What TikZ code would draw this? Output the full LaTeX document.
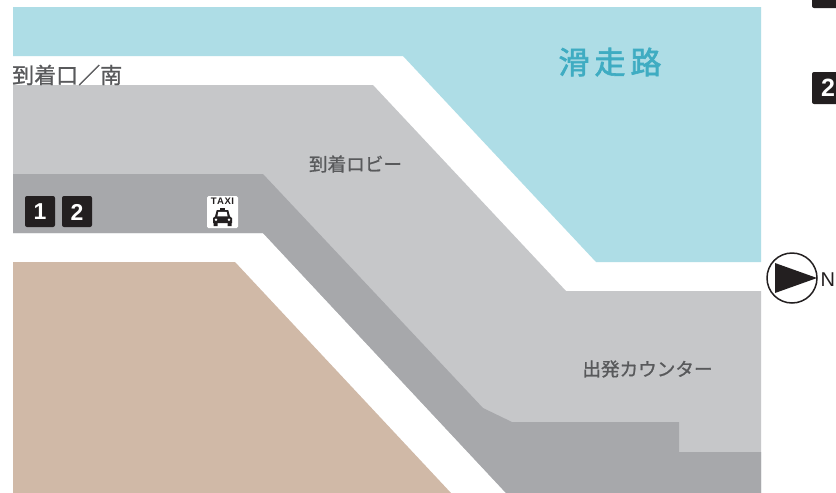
\documentclass[tikz,border=0pt]{standalone}
\usepackage{fontspec}
\setmainfont{Liberation Sans}
\newfontfamily\jp[FakeBold=1]{Noto Sans CJK JP}
\newfontfamily\jpb[FakeBold=2]{Noto Sans CJK JP}
\definecolor{runway}{HTML}{AEDDE6}
\definecolor{lobby}{HTML}{C6C7C9}
\definecolor{curb}{HTML}{A7A8AB}
\definecolor{land}{HTML}{D0B9A7}
\definecolor{tile}{HTML}{231F20}
\definecolor{runtext}{HTML}{3FACC2}
\definecolor{labeltext}{HTML}{58595B}
\tikzset{
  lbl/.style={inner sep=0pt,text=labeltext,font=\jp\fontsize{18.6}{18.6}\selectfont},
  numtile/.style={fill=tile,rounded corners=2pt},
  numtext/.style={inner sep=0pt,text=white,font=\bfseries\fontsize{23}{23}\selectfont}
}
\begin{document}
\begin{tikzpicture}[x=1pt,y=-1pt]
\useasboundingbox (0,0) rectangle (836,493);
\fill[white] (0,0) rectangle (836,493);
\fill[runway] (13,7) -- (761,7) -- (761,262) -- (596,262) -- (403,56) -- (13,56) -- cycle;
\fill[lobby] (13,85) -- (373,85) -- (566,291) -- (761,291) -- (761,493) -- (506,493) -- (263,233) -- (13,233) -- cycle;
\fill[curb] (13,174) -- (263,174) -- (483,408) -- (512,422) -- (679,422) -- (679,452) -- (761,452) -- (761,493) -- (506,493) -- (263,233) -- (13,233) -- cycle;
\fill[land] (13,262) -- (235,262) -- (451,493) -- (13,493) -- cycle;
\node[inner sep=0pt,text=runtext,font=\jpb\fontsize{31}{31}\selectfont] (runway) at (610,62) {滑\kern5pt 走\kern5pt 路};
\node[inner sep=0pt,anchor=west,text=labeltext,font=\jp\fontsize{22}{22}\selectfont] (arr) at (12,75) {到着口／南};
\node[lbl] (lobbylabel) at (355.5,164) {到着ロビー};
\node[lbl] (counter) at (647.5,369) {出発カウンター};
% number tiles
\fill[numtile] (25,196) rectangle (55,227);
\node[numtext] (one) at (40,212) {1};
\fill[numtile] (62,196) rectangle (92,227);
\node[numtext] (two) at (77,212) {2};
\fill[numtile] (812,-24) rectangle (845,8);
\fill[numtile] (812,72) rectangle (845,104);
\node[numtext,anchor=west,font=\bfseries\fontsize{25}{25}\selectfont] (twob) at (821,88) {2};
% taxi
\fill[white,rounded corners=1.5pt] (207,196) rectangle (238,228);
\node[inner sep=0pt,font=\bfseries\fontsize{9.5}{9.5}\selectfont,text=tile] (taxi) at (222.5,201.5) {T\kern.5pt A\kern.5pt X\kern.5pt I};
\fill[tile] (220,207.5) rectangle (225,210);
\fill[tile] (215,216.5) -- (216.8,210) -- (228.2,210) -- (230,216.5) -- (232,218) -- (232,223) -- (213,223) -- (213,218) -- cycle;
\fill[white] (217.4,216.3) -- (218.4,211.8) -- (226.6,211.8) -- (227.6,216.3) -- cycle;
\fill[white] (216,219.7) circle (1.3) (229,219.7) circle (1.3);
\fill[tile] (213.5,222) rectangle (217.5,226) (227.5,222) rectangle (231.5,226);
% north arrow
\draw[tile,line width=1.5pt] (792,278) circle (25);
\fill[tile] (775,263) -- (817,278) -- (775,293) -- cycle;
\node[inner sep=0pt,anchor=west,text=tile,font=\fontsize{20}{20}\selectfont] (north) at (820.5,280) {N};
\end{tikzpicture}
\end{document}
